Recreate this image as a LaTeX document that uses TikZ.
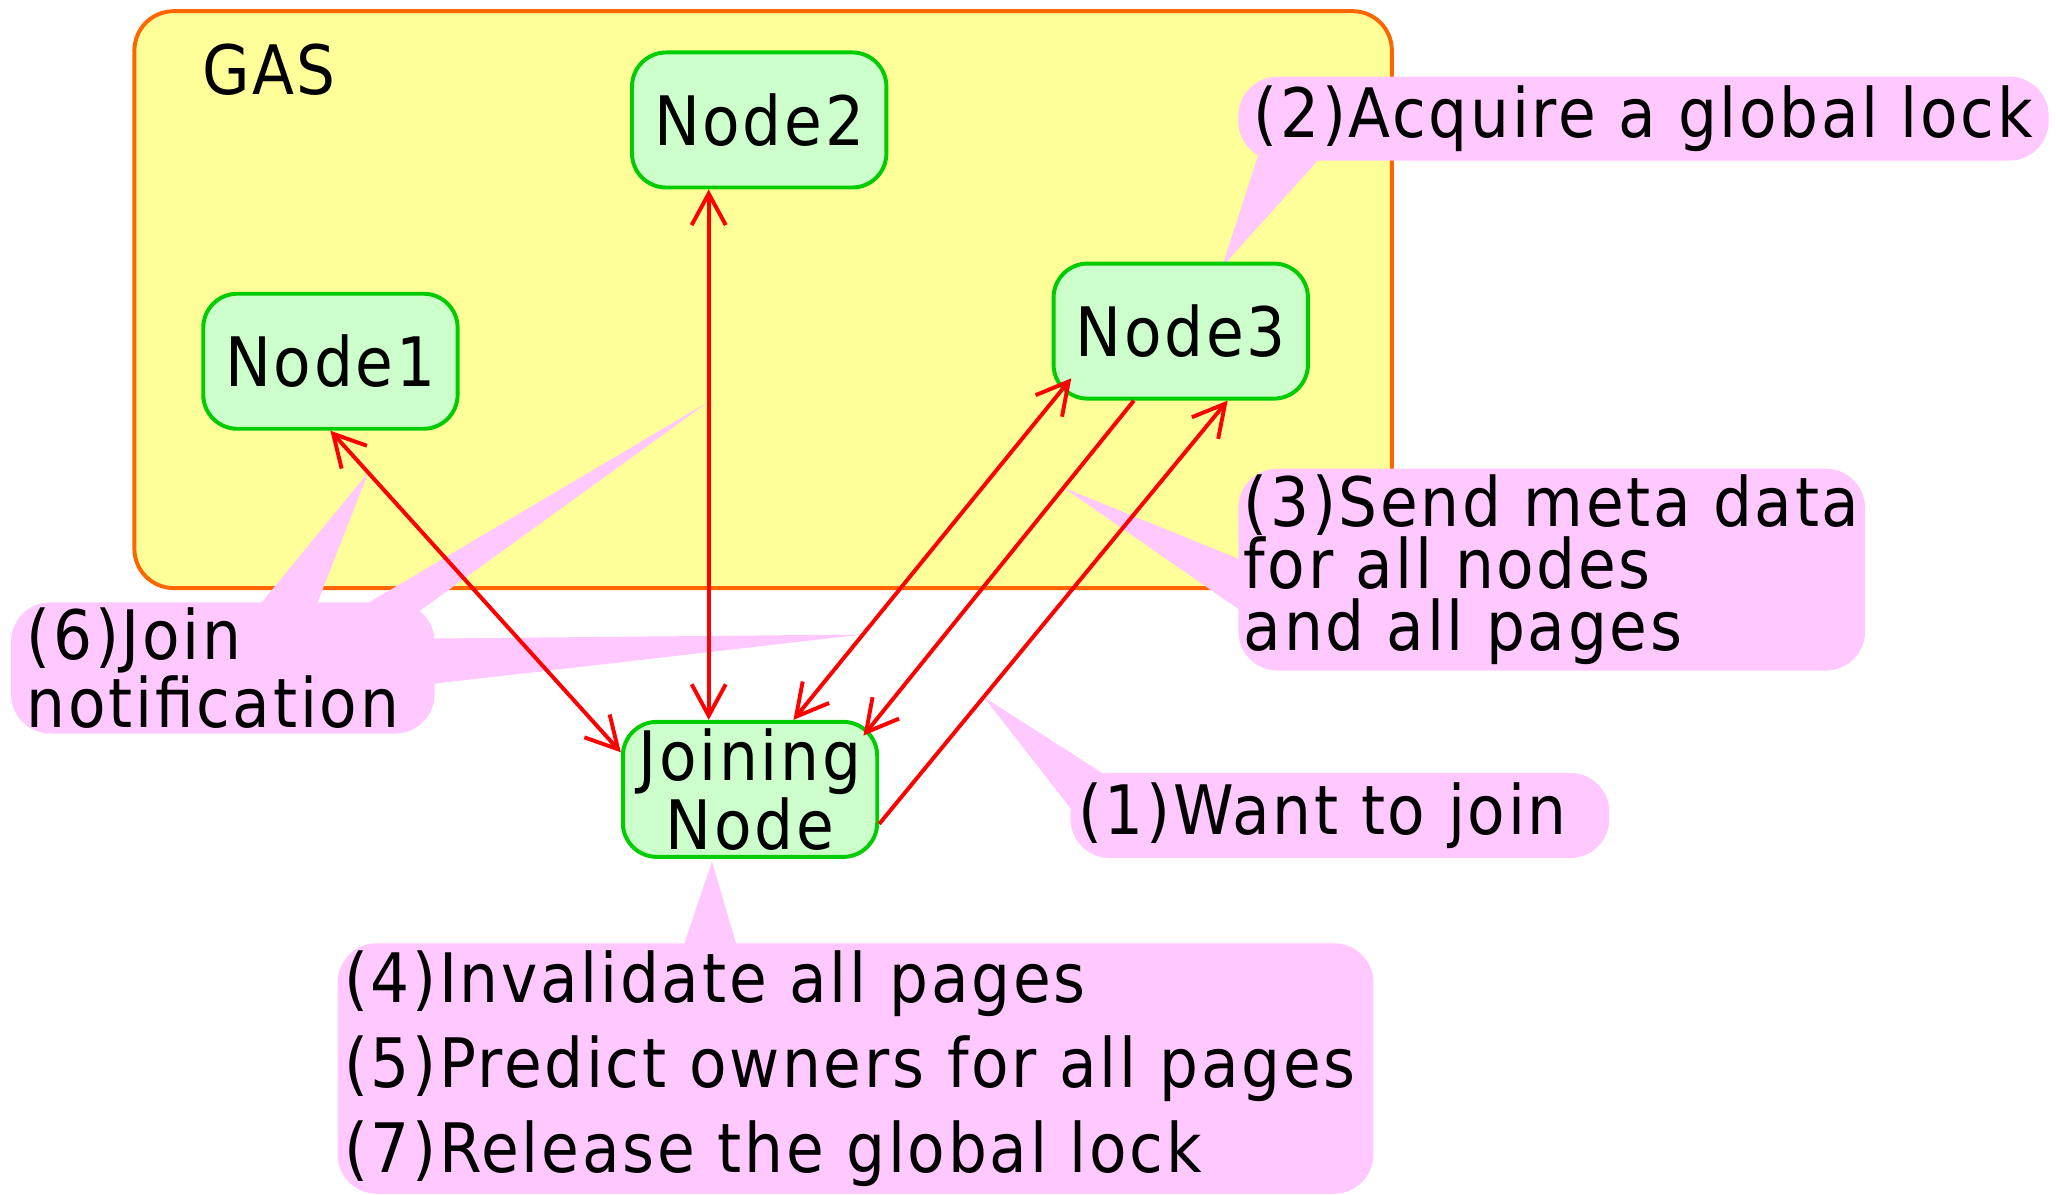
\documentclass[tikz,border=0pt]{standalone}
\usepackage{fontspec}
\setmainfont{DejaVu Sans Condensed}[LetterSpace=4]
\usetikzlibrary{arrows.meta,backgrounds,calc}
\definecolor{gasfill}{HTML}{FFFF99}
\definecolor{gasline}{HTML}{FF6600}
\definecolor{peerfill}{HTML}{CCFFCC}
\definecolor{peerline}{HTML}{00CC00}
\definecolor{notepink}{HTML}{FFC8FF}
\definecolor{linkred}{HTML}{FF0000}
\pgfdeclarelayer{tails}
\pgfdeclarelayer{notes}
\pgfsetlayers{background,tails,notes,main}

\begin{document}
\begin{tikzpicture}[x=0.5pt,y=-0.5pt,>={Straight Barb[length=12pt,width=13pt]},
    font=\fontsize{26pt}{23.5pt}\selectfont,
    peer/.style={draw=peerline,fill=peerfill,line width=1.5pt,rounded corners=13pt,
      minimum width=97pt,minimum height=51.5pt,inner sep=0pt,align=center},
    note/.style={fill=notepink,rounded corners=15pt,anchor=north west,align=left,inner sep=0pt},
    link/.style={linkred,line width=1.5pt}]
    \useasboundingbox (0,0) rectangle (1568,911);

    \node[peer] (node2) at (579,91.5) {Node2};
    \node[peer] (node1) at (252,275.5) {Node1};
    \node[peer] (node3) at (900.5,252.5) {Node3};
    \node[peer,font=\fontsize{26pt}{22.5pt}\selectfont] (joining) at (572,602) {Joining\\Node};

    \draw[link,<->] (node1.south) -- coordinate[pos=0.13] (p6a) (joining.164);
    \draw[link,<->] (node2.234) -- coordinate[pos=0.4] (p6b) (node2.234 |- joining.north);
    \draw[link,<->] ($(node3.south west)+(15,-17)$) -- coordinate[pos=0.75] (p6c) (joining.58);
    \draw[link,->] (node3.236) -- coordinate[pos=0.26] (p3) ($(joining.north east)+(-12,12)$);
    \draw[link,->] (joining.-15) -- coordinate[pos=0.3] (p1) (node3.-56);

    \begin{scope}[on background layer]
      \node[draw=gasline,fill=gasfill,line width=1.5pt,rounded corners=15pt,anchor=north west,
        minimum width=479.5pt,minimum height=220pt] (gas) at (101,7) {};
      \node[anchor=base west] (gaslabel) at (147,72) {GAS};
    \end{scope}

    \begin{pgfonlayer}{notes}
      \node[note,minimum width=309pt,minimum height=32pt] (note2) at (944,58) {(2)Acquire a global lock};
      \node[note,minimum width=239pt,minimum height=77pt] (note3) at (944,357)
        {(3)Send meta data\\for all nodes\\and all pages};
      \node[note,inner xsep=3pt,text width=199.5pt,minimum height=32.5pt] (note1) at (816,589) {(1)Want to join};
      \node[note,inner xsep=6pt,text width=149.5pt,minimum height=50pt] (note6) at (8,459) {(6)Join\\notification};
      \node[note,inner xsep=2.5pt,text width=390pt,minimum height=95.5pt,font=\fontsize{26pt}{32.5pt}\selectfont] (note4)
        at (257,719) {(4)Invalidate all pages\\(5)Predict owners for all pages\\(7)Release the global lock};
    \end{pgfonlayer}

    % speech-bubble tails
    \begin{pgfonlayer}{tails}
      \fill[notepink] ($(note2.south west)+(16,-6)$) -- ($(node3.north)+(31.5,4)$)
        -- ($(note2.south west)+(66,-6)$) -- cycle;
      \fill[notepink] ($(note3.west)+(6,-6)$) -- (p3) -- ($(note3.west)+(6,34)$) -- cycle;
      \fill[notepink] ($(note1.north west)+(30,4)$) -- (p1) -- ($(note1.north west)+(4,32)$) -- cycle;
      \fill[notepink] ($(note6.north west)+(187,6)$) -- (p6a) -- ($(note6.north west)+(232,6)$) -- cycle;
      \fill[notepink] ($(note6.north west)+(264,6)$) -- (p6b) -- ($(note6.north west)+(305,12)$) -- cycle;
      \fill[notepink] ($(note6.north east)+(-6,28)$) -- (p6c) -- ($(note6.north east)+(-6,63)$) -- cycle;
      \fill[notepink] ($(note4.north west)+(263,6)$) -- ($(joining.south)+(-29,2)$)
        -- ($(note4.north west)+(306,6)$) -- cycle;
    \end{pgfonlayer}
\end{tikzpicture}
\end{document}
